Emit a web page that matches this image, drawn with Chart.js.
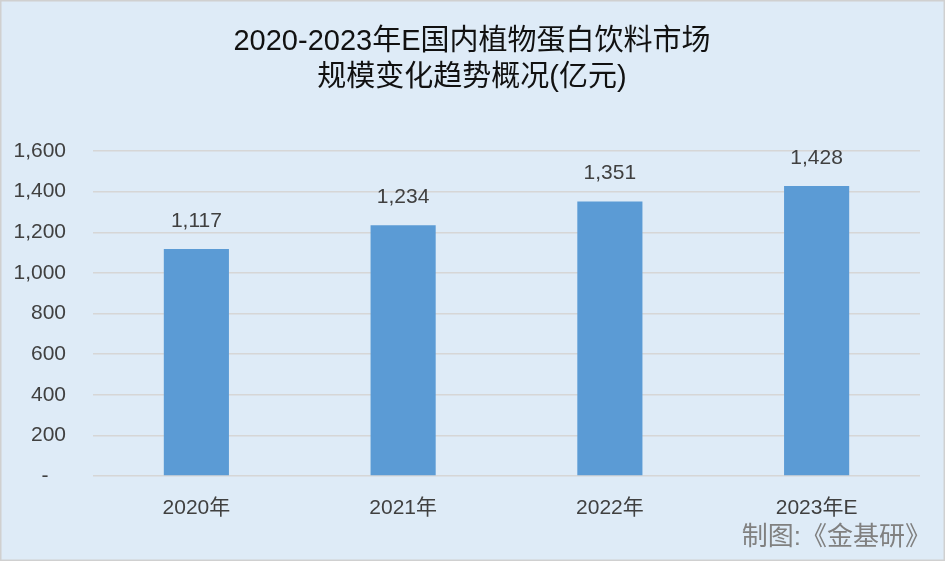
<!DOCTYPE html>
<html lang="zh">
<head>
<meta charset="UTF-8">
<title>植物蛋白饮料市场规模</title>
<script src="https://cdn.jsdelivr.net/npm/chart.js"></script>
<style>
  body { margin: 0; background: #fff; }
  #wrap { width: 945px; height: 561px; }
</style>
</head>
<body>
<div id="wrap"><canvas id="chartCanvas" width="945" height="561"></canvas></div>
<script>
const years = ['2020年', '2021年', '2022年', '2023年E'];
const marketSize = [1117, 1234, 1351, 1428];
const titleLines = ['2020-2023年E国内植物蛋白饮料市场', '规模变化趋势概况(亿元)'];
const sourceNote = '制图:《金基研》';

const fontFamily = '"Liberation Sans", "Noto Sans CJK SC", sans-serif';

// background, frame, title and source note
const framePlugin = {
  id: 'frame',
  beforeDraw(chart) {
    const c = chart.ctx;
    c.save();
    c.fillStyle = '#DEEBF7';
    c.fillRect(0, 0, chart.width, chart.height);
    c.strokeStyle = '#D0D0D0';
    c.lineWidth = 3;
    c.strokeRect(0, 0, chart.width, chart.height);

    c.fillStyle = '#111';
    c.font = '29px ' + fontFamily;
    c.textAlign = 'center';
    c.textBaseline = 'middle';
    c.fillText(titleLines[0], 472, 42);
    c.fillText(titleLines[1], 472, 78);

    c.fillStyle = '#808080';
    c.font = '26px ' + fontFamily;
    c.textAlign = 'right';
    c.fillText(sourceNote, 931, 538);
    c.restore();
  }
};

// value labels above the bars
const labelPlugin = {
  id: 'valueLabels',
  afterDatasetsDraw(chart) {
    const c = chart.ctx;
    const meta = chart.getDatasetMeta(0);
    c.save();
    c.font = '21px ' + fontFamily;
    c.fillStyle = '#404040';
    c.textAlign = 'center';
    c.textBaseline = 'middle';
    meta.data.forEach((bar, i) => {
      c.fillText(marketSize[i].toLocaleString('en-US'), bar.x, bar.y - 28);
    });
    c.restore();
  }
};

const ctx = document.getElementById('chartCanvas').getContext('2d');
new Chart(ctx, {
  type: 'bar',
  data: {
    labels: years,
    datasets: [{
      data: marketSize,
      backgroundColor: '#5B9BD5',
      categoryPercentage: 1,
      barPercentage: 0.315
    }]
  },
  options: {
    responsive: false,
    animation: false,
    layout: { padding: { left: 5, right: 25, top: 151, bottom: 0 } },
    plugins: {
      legend: { display: false },
      tooltip: { enabled: false },
      title: { display: false }
    },
    scales: {
      x: {
        grid: { display: false },
        border: { display: false },
        ticks: {
          color: '#404040',
          font: { family: fontFamily, size: 21 },
          padding: 12
        },
        afterFit(s) { s.height = 85; }
      },
      y: {
        min: 0,
        max: 1600,
        grid: { color: '#D6D6D6', lineWidth: 1.5, drawTicks: false },
        border: { display: false },
        ticks: {
          stepSize: 200,
          color: '#404040',
          font: { family: fontFamily, size: 21 },
          padding: 27,
          callback: v => v === 0 ? '-   ' : v.toLocaleString('en-US')
        },
        afterFit(s) { s.width = 88; }
      }
    }
  },
  plugins: [framePlugin, labelPlugin]
});
</script>
</body>
</html>
